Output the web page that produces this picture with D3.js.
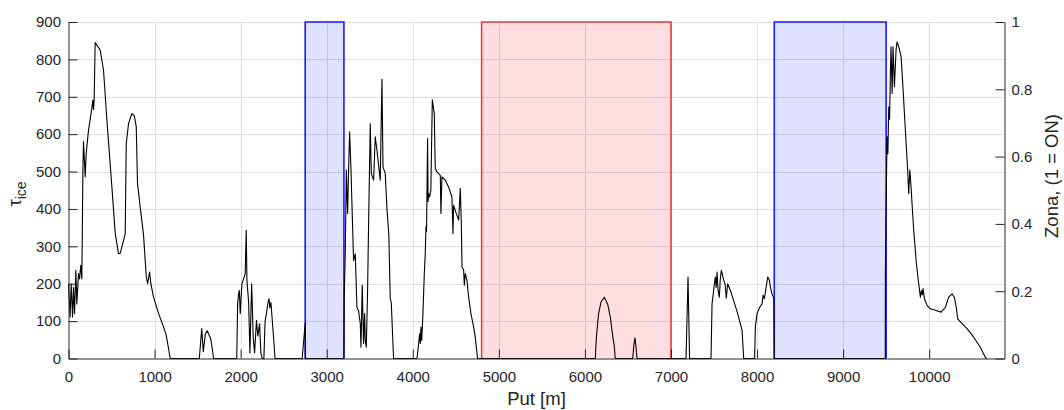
<!DOCTYPE html>
<html><head><meta charset="utf-8">
<script src="https://cdn.jsdelivr.net/npm/d3@7"></script>
<style>
body{margin:0;background:#fff}
text{font-family:"Liberation Sans",Arial,Helvetica,sans-serif}
</style>
</head><body>
<svg id="chart" width="1064" height="410"></svg>
<script>
// ---- data ----
const distance = [0,19,31,47,58,70,85,97,116,128,143,155,167,174,194,205,233,271,283,291,298,310,329,368,407,446,504,543,581,601,640,659,671,698,736,764,787,802,833,872,903,919,942,957,988,1047,1105,1136,1182,
1520,1548,1566,1590,1612,1635,1650,1660,1686,
1955,1965,1976,1985,1995,2015,2035,2053,2065,2073,2093,2108,2128,2146,2162,2184,2200,2220,2235,2250,2270,2284,2300,2318,2330,2340,2352,2378,2400,
2715,2750,2752,
3200,3204,3216,3228,3243,3254,3266,3282,3301,3312,3332,3351,3370,3390,3398,3413,3428,3440,3448,3460,3475,3486,3506,3518,3545,3564,3584,3622,3642,3654,3680,3700,3722,3738,3750,3777,
4049,4068,4079,4088,4095,4104,4118,4134,4145,4153,4160,4172,4178,4184,4195,4210,4227,4250,4261,4281,4320,4327,4339,4378,4416,4455,4467,4474,4505,4533,4552,4564,4572,4591,4599,4610,4630,4649,4676,4707,4726,4738,4753,
6121,6130,6140,6159,6187,6225,6264,6295,6322,6340,6353,
6555,6570,6582,6594,6605,
7175,7198,7216,
7465,7477,7490,7500,7515,7525,7535,7547,7562,7572,7585,7597,7612,7628,7643,7658,7690,7728,7775,7826,7845,
7972,7980,8000,8031,8058,8070,8085,8100,8124,8143,8155,8174,8195,8200,
9490,9491,9503,9510,9520,9530,9540,9549,9557,9569,9580,9596,9615,9627,9646,9674,9697,9723,9750,9762,9775,9789,9801,9820,9851,9878,9898,9910,9920,9929,9945,9975,10014,10072,10138,10188,10227,10266,10292,10315,10331,10382,10440,10517,10594,10653,10673];
const tauIce = [200,111,200,111,190,120,236,146,227,213,249,213,495,580,486,548,611,669,691,666,691,845,838,825,771,638,459,334,280,282,316,334,575,629,655,650,620,468,405,330,220,200,231,200,164,120,84,62,0,
0,80,18,66,74,62,55,42,0,
0,146,173,182,120,200,213,227,343,209,150,15,200,57,15,102,60,93,15,0,0,100,120,150,160,135,150,70,0,
0,95,0,
0,164,289,504,388,504,606,504,352,262,280,137,128,93,30,196,40,120,48,30,182,350,628,495,477,593,557,477,747,512,495,400,330,160,150,0,
0,39,66,40,84,48,120,227,280,352,340,588,420,441,432,450,692,655,508,499,490,388,486,477,459,432,334,410,388,370,455,361,245,236,196,227,209,164,120,84,57,30,0,
0,45,75,120,151,164,146,111,62,35,0,
0,38,55,30,0,
0,218,0,
0,146,170,191,218,190,231,182,164,210,236,225,209,200,161,200,182,155,120,75,0,
0,84,120,137,146,169,160,182,218,209,191,173,160,0,
0,227,468,593,548,673,640,763,834,709,834,727,825,847,834,807,718,611,504,441,504,459,414,343,254,200,164,182,170,187,160,142,133,129,124,137,164,173,164,137,106,93,80,57,30,3,0];

const zoneStart = [2750, 4800, 8200];
const zoneEnd   = [3200, 7000, 9500];
const zoneOn    = [1, 1, 1];
const zoneKind  = ["A", "B", "A"];

const xTicks = d3.range(0, 10001, 1000);
const yLeftTicks = d3.range(0, 901, 100);
const yRightTicks = [0, 0.2, 0.4, 0.6, 0.8, 1];

// ---- styles ----
const zoneStyle = {
  A: {fill: "rgba(0,0,255,0.12)", stroke: "#1a1aff"},
  B: {fill: "rgba(255,0,30,0.13)", stroke: "#e83a3a"}
};
const axisColor = "#262626";
const gridColor = "#dedede";

const L = 68.5, R = 1004.5, T = 22, B = 358.5;
const svg = d3.select("#chart");

const x = d3.scaleLinear().domain([0, 10875]).range([L, R]);
const yL = d3.scaleLinear().domain([0, 900]).range([B, T]);
const yR = d3.scaleLinear().domain([0, 1]).range([B, T]);

// grid
const grid = svg.append("g");
grid.selectAll("line.v").data(xTicks.filter(d => d > 0)).enter().append("line")
  .attr("x1", d => Math.round(x(d)) + 0.5).attr("x2", d => Math.round(x(d)) + 0.5)
  .attr("y1", T).attr("y2", B).attr("stroke", gridColor).attr("stroke-width", 1);
grid.selectAll("line.h").data(yLeftTicks.filter(d => d > 0)).enter().append("line")
  .attr("y1", d => Math.round(yL(d)) + 0.5).attr("y2", d => Math.round(yL(d)) + 0.5)
  .attr("x1", L).attr("x2", R).attr("stroke", gridColor).attr("stroke-width", 1);

// zones
const zones = zoneStart.map((s, i) => ({s, e: zoneEnd[i], on: zoneOn[i], k: zoneKind[i]}));
const zg = svg.append("g");
zg.selectAll("rect").data(zones).enter().append("rect")
  .attr("x", d => x(d.s)).attr("width", d => x(d.e) - x(d.s))
  .attr("y", d => yR(d.on)).attr("height", d => yR(0) - yR(d.on))
  .attr("fill", d => zoneStyle[d.k].fill);
zg.selectAll("path").data(zones).enter().append("path")
  .attr("d", d => d3.line()([[x(d.s), yR(0)], [x(d.s), yR(d.on)], [x(d.e), yR(d.on)], [x(d.e), yR(0)]]))
  .attr("fill", "none").attr("stroke", d => zoneStyle[d.k].stroke).attr("stroke-width", 1.6);

// curve
const pts = distance.map((d, i) => [d, tauIce[i]]);
svg.append("path")
  .attr("d", d3.line().x(d => x(d[0])).y(d => yL(d[1]))(pts))
  .attr("fill", "none").attr("stroke", "#000").attr("stroke-width", 1.1)
  .attr("stroke-linejoin", "round");

// axes
function styleAxis(g) {
  g.selectAll(".domain").attr("stroke", axisColor);
  g.selectAll(".tick line").attr("stroke", axisColor);
  g.selectAll("text").attr("fill", axisColor).style("font-size", "15px")
    .style("font-family", '"Liberation Sans",Arial,sans-serif');
}
const gx = svg.append("g").attr("transform", `translate(0,${B})`)
  .call(d3.axisBottom(x).tickValues(xTicks).tickFormat(d3.format("d"))
    .tickSizeInner(-9).tickSizeOuter(0).tickPadding(12.5));
styleAxis(gx);
const gyl = svg.append("g").attr("transform", `translate(${L},0)`)
  .call(d3.axisLeft(yL).tickValues(yLeftTicks).tickFormat(d3.format("d"))
    .tickSizeInner(-9).tickSizeOuter(0).tickPadding(7.5));
styleAxis(gyl);
const gyr = svg.append("g").attr("transform", `translate(${R},0)`)
  .call(d3.axisRight(yR).tickValues(yRightTicks).tickFormat(d3.format("~g"))
    .tickSizeInner(-9).tickSizeOuter(0).tickPadding(7));
styleAxis(gyr);

// labels
svg.append("text").attr("x", (L + R) / 2).attr("y", 405).attr("text-anchor", "middle")
  .attr("fill", axisColor).style("font-size", "18.5px").text("Put [m]");

const ylab = svg.append("text").attr("transform", "translate(21,194) rotate(-90)")
  .attr("text-anchor", "middle").attr("fill", axisColor).style("font-size", "18.5px");
ylab.append("tspan").text("τ");
ylab.append("tspan").attr("dy", 5).style("font-size", "14px").text("ice");

svg.append("text").attr("transform", "translate(1058,176) rotate(-90)")
  .attr("text-anchor", "middle").attr("fill", axisColor).style("font-size", "18.5px")
  .text("Zona, (1 = ON)");
</script>
</body></html>
